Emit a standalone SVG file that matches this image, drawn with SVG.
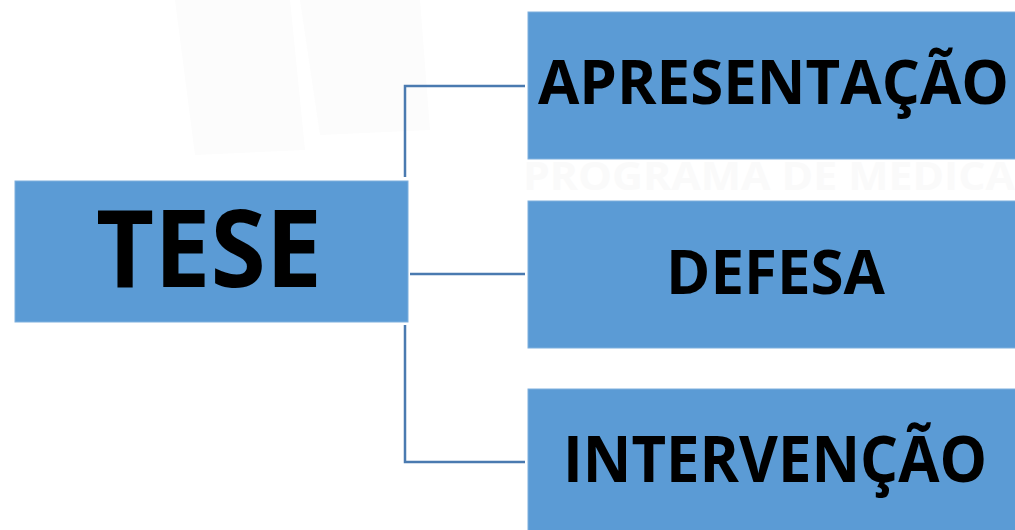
<svg xmlns="http://www.w3.org/2000/svg" width="1015" height="530" viewBox="0 0 1015 530">
<style>
.box{fill:#5b9bd5;stroke:#7fb0de;stroke-width:1}
.lbl{font-family:"Open Sans","Liberation Sans",sans-serif;font-weight:700;fill:#000;text-anchor:middle}
.conn{stroke:#4a7ab0;stroke-width:2.5;fill:none}
.wm{font-family:"Open Sans","Liberation Sans",sans-serif;font-weight:700;fill:#fafafa}
</style>
<rect width="1015" height="530" fill="#ffffff"/>
<g id="watermark">
<path d="M175 0 L290 0 L305 150 L195 155 Z" fill="#fcfcfc"/>
<path d="M300 0 L420 0 L430 130 L320 135 Z" fill="#fcfcfc"/>
<text class="wm" x="523" y="190" font-size="40" textLength="492" lengthAdjust="spacingAndGlyphs">PROGRAMA DE MEDICA</text>
</g>
<g id="connectors">
<polyline class="conn" points="525,86 405,86 405,177"/>
<line class="conn" x1="410" y1="274" x2="525" y2="274"/>
<polyline class="conn" points="405,325 405,462 525,462"/>
</g>
<g id="node-tese">
<rect class="box" x="15" y="181" width="393" height="141"/>
<text class="lbl" x="209" y="287" font-size="108" textLength="226" lengthAdjust="spacingAndGlyphs">TESE</text>
</g>
<g id="node-apresentacao">
<rect class="box" x="528" y="12" width="490" height="147"/>
<text class="lbl" x="773.5" y="104" font-size="60" textLength="471" lengthAdjust="spacingAndGlyphs">APRESENTAÇÃO</text>
</g>
<g id="node-defesa">
<rect class="box" x="528" y="201" width="490" height="147"/>
<text class="lbl" x="775.5" y="294" font-size="60" textLength="219" lengthAdjust="spacingAndGlyphs">DEFESA</text>
</g>
<g id="node-intervencao">
<rect class="box" x="528" y="389" width="490" height="145"/>
<text class="lbl" x="775" y="482" font-size="64" textLength="424" lengthAdjust="spacingAndGlyphs">INTERVENÇÃO</text>
</g>
</svg>
